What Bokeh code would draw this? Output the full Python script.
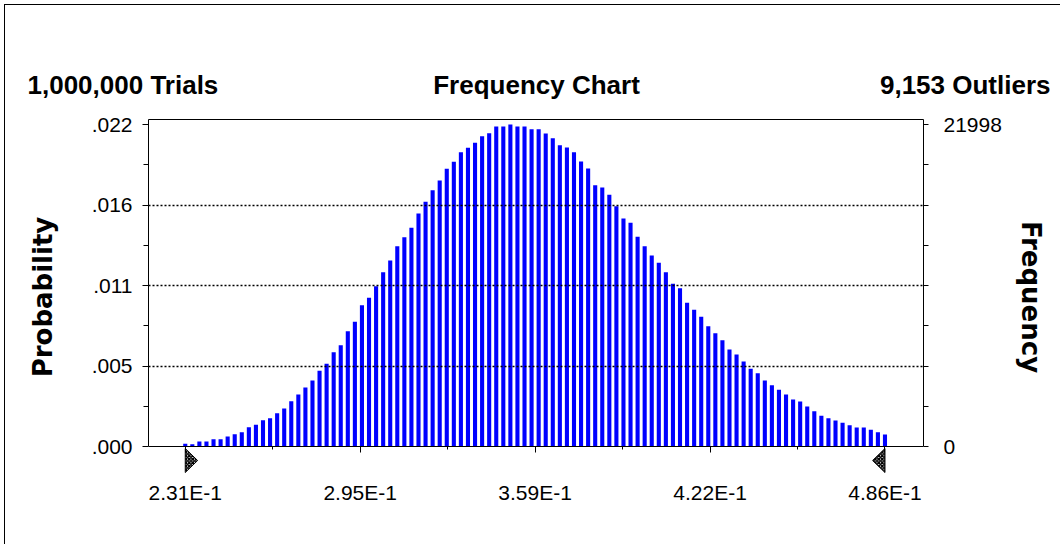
import numpy as np
from bokeh.plotting import figure
from bokeh.layouts import column
from bokeh.models import Range1d, LinearAxis, FixedTicker, ColumnDataSource
from bokeh.core.properties import value
from bokeh.embed import file_html
from bokeh.resources import INLINE

# ---------------- data ----------------
trials = 1000000
outliers = 9153
chart_title = "Frequency Chart"
x_first = 0.231          # centre of first bin (2.31E-1)
x_last = 0.486           # centre of last bin (4.86E-1)
x_tick_labels = ["2.31E-1", "2.95E-1", "3.59E-1", "4.22E-1", "4.86E-1"]
freq_max = 21998
counts = [
    184, 157, 342, 342, 499, 499, 683, 840, 977, 1319,
    1483, 1797, 1933, 2275, 2596, 3095, 3553, 4031, 4509, 5172,
    5650, 6443, 6921, 7877, 8520, 9654, 10159, 10952, 11908, 12708,
    13684, 14300, 14942, 15919, 16718, 17510, 18173, 18973, 19451, 20107,
    20407, 20749, 21200, 21405, 21862, 21862, 21998, 21862, 21862, 21678,
    21678, 21384, 21063, 20585, 20428, 20107, 19471, 18993, 17852, 17695,
    17196, 16417, 15577, 15283, 14327, 13684, 13049, 12550, 11908, 11116,
    10815, 9818, 9339, 8861, 8219, 7741, 7262, 6627, 6285, 5807,
    5309, 5008, 4509, 4188, 3874, 3553, 3211, 3074, 2733, 2412,
    2097, 1933, 1776, 1619, 1455, 1298, 1298, 1141, 977, 820,
]

# ---------------- derived ----------------
n = len(counts)
bw = (x_last - x_first) / (n - 1)
xs = [x_first + i * bw for i in range(n)]
probs = [c / trials for c in counts]
pmax = freq_max / trials
u = pmax / 322.0                 # probability per pixel
y_end = 327 * u
y_start = -28 * u

TICK_FONT = "Liberation Sans"
W = 1055

# ---------------- header ----------------
hdr = figure(width=W, height=95, title=None,
             x_range=Range1d(0, W), y_range=Range1d(0, 95),
             output_backend="svg", toolbar_location=None,
             x_axis_location=None, y_axis_location=None,
             min_border=0, min_border_left=0, min_border_right=0,
             min_border_top=0, min_border_bottom=0)
hdr.frame_align = False
hdr.grid.visible = False
hdr.outline_line_color = None
hdr_src = ColumnDataSource(dict(
    x=[22, 531, 1045], y=[16, 16, 16],
    t=[f"{trials:,} Trials", chart_title, f"{outliers:,} Outliers"],
    a=["left", "center", "right"]))
hdr.text(x="x", y="y", text="t", text_align="a", source=hdr_src,
         text_font=value(TICK_FONT), text_font_style="bold",
         text_font_size="26px", text_color="black", text_baseline="alphabetic")

# ---------------- main chart ----------------
src = ColumnDataSource(dict(x=xs, p=probs))
p = figure(width=W, height=444,
           x_range=Range1d(x_first - 5.2 * bw, x_last + 5.45 * bw),
           y_range=Range1d(y_start, y_end),
           output_backend="svg", toolbar_location=None,
           min_border_left=143, min_border_right=W - 918,
           min_border_top=19, min_border_bottom=70)
p.frame_align = False
p.background_fill_color = "white"
p.border_fill_color = "white"
p.outline_line_color = None

p.vbar(x="x", top="p", width=bw * 0.58, bottom=0, source=src,
       fill_color="#0000FF", line_color=None)

# certainty grabbers at the first and last bins
gx = [[x_first, x_first, x_first + 1.75 * bw], [x_last, x_last, x_last - 1.75 * bw]]
gy = [[-2 * u, -26 * u, -14 * u]] * 2
p.patches(xs=gx, ys=gy, fill_color="white", line_color="black", line_width=1,
          hatch_pattern="diagonal_cross", hatch_color="black", hatch_scale=3.5,
          hatch_weight=1.6)

# grid
p.xgrid.visible = False
major_y = [round(k * pmax / 4, 9) for k in range(5)]
minor_y = [round((k + 0.5) * pmax / 4, 9) for k in range(4)]
p.ygrid.ticker = FixedTicker(ticks=major_y[1:4])
p.ygrid.grid_line_color = "black"
p.ygrid.grid_line_dash = "2 2"
p.ygrid.grid_line_width = 1.7
p.ygrid.level = "overlay"

# bottom axis line + ticks (drawn at probability 0)
major_x = [x_first + k * (x_last - x_first) / 4 for k in range(5)]
minor_x = [x_first + (k + 0.5) * (x_last - x_first) / 4 for k in range(4)]
xa = p.below[0]
xa.fixed_location = 0
xa.ticker = FixedTicker(ticks=major_x, minor_ticks=minor_x)
xa.major_label_overrides = {v: "" for v in major_x}
xa.major_label_text_font_size = "0px"
xa.major_label_standoff = 0
xa.major_tick_out = 6
xa.major_tick_in = 0
xa.minor_tick_out = 3
xa.minor_tick_in = 0
xa.axis_line_color = "black"

# bottom tick labels (below the grabbers)
xl = LinearAxis(ticker=FixedTicker(ticks=major_x, minor_ticks=[]))
xl.major_label_overrides = {v: lab for v, lab in zip(major_x, x_tick_labels)}
xl.major_label_text_font = TICK_FONT
xl.major_label_text_font_size = "21px"
xl.major_label_text_color = "black"
xl.major_tick_out = 0
xl.major_tick_in = 0
xl.minor_tick_out = 0
xl.minor_tick_in = 0
xl.major_label_standoff = 6
xl.axis_line_color = None
p.below = [xl, xa]

# left axis
ya = p.left[0]
ya.ticker = FixedTicker(ticks=major_y, minor_ticks=minor_y)
ya.bounds = (0, y_end)
ya.major_label_overrides = {v: ("%.3f" % v)[1:] for v in major_y}
ya.major_label_text_font = TICK_FONT
ya.major_label_text_font_size = "21px"
ya.major_label_text_color = "black"
ya.major_tick_out = 6
ya.major_tick_in = 0
ya.minor_tick_out = 5
ya.minor_tick_in = 0
ya.major_label_standoff = 10
ya.axis_line_color = "black"
ya.axis_label = "Probability"
ya.axis_label_text_font = "DejaVu Sans"
ya.axis_label_text_font_style = "bold"
ya.axis_label_text_font_size = "26px"
ya.axis_label_text_color = "black"
ya.axis_label_standoff = 31

# right axis
p.extra_y_ranges = {"freq": Range1d(y_start * trials, y_end * trials)}
right_ticks = [k * freq_max / 8 for k in range(9)]
ra = LinearAxis(y_range_name="freq",
                ticker=FixedTicker(ticks=right_ticks, minor_ticks=[]))
ra.bounds = (0, y_end * trials)
ra.major_label_overrides = {t: "" for t in right_ticks}
ra.major_label_overrides[0] = "0"
ra.major_label_overrides[freq_max] = str(freq_max)
ra.major_label_text_font = TICK_FONT
ra.major_label_text_font_size = "21px"
ra.major_label_text_color = "black"
ra.major_tick_out = 5
ra.major_tick_in = 0
ra.major_label_standoff = 15
ra.axis_line_color = "black"
ra.axis_label = "Frequency"
ra.axis_label_text_font = "DejaVu Sans"
ra.axis_label_text_font_style = "bold"
ra.axis_label_text_font_size = "26px"
ra.axis_label_text_color = "black"
ra.axis_label_standoff = 11
p.add_layout(ra, "right")

# top frame line
ta = LinearAxis(ticker=FixedTicker(ticks=[], minor_ticks=[]))
ta.major_tick_out = 0
ta.minor_tick_out = 0
ta.major_label_text_font_size = "0px"
ta.axis_line_color = "black"
p.add_layout(ta, "above")

layout = column(hdr, p, margin=(4, 0, 0, 4),
                styles={"border-top": "1px solid black",
                        "border-left": "1px solid black"})

open("out.html", "w").write(file_html(layout, INLINE))
